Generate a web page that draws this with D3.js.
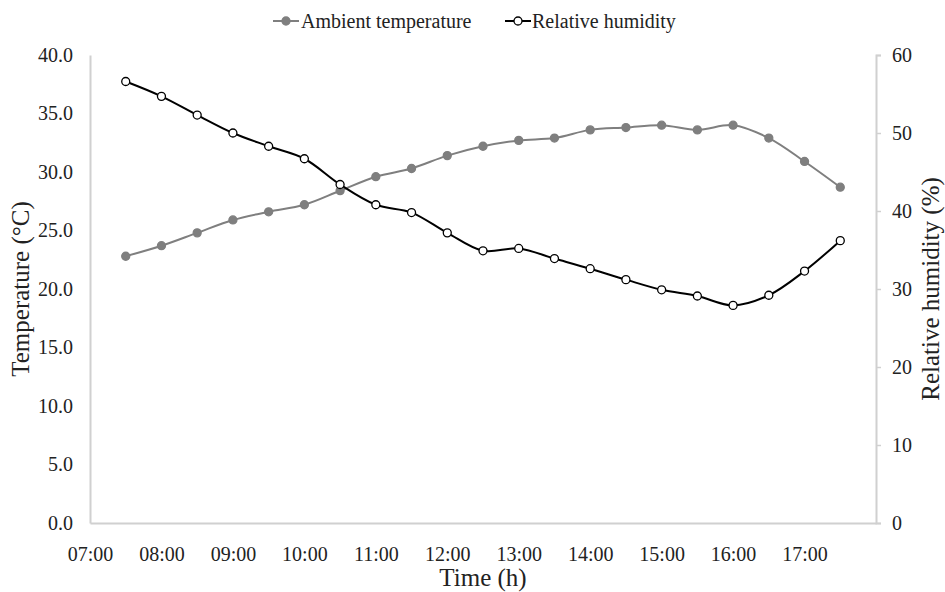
<!DOCTYPE html>
<html>
<head>
<meta charset="utf-8">
<script src="https://cdn.jsdelivr.net/npm/d3@7"></script>
<style>
  body { margin: 0; background: #fff; }
</style>
</head>
<body>
<div id="chart"></div>
<script>
// Half-hourly readings, 07:30 to 17:30
const times = ["07:30", "08:00", "08:30", "09:00", "09:30", "10:00", "10:30", "11:00", "11:30",
    "12:00", "12:30", "13:00", "13:30", "14:00", "14:30", "15:00", "15:30", "16:00", "16:30",
    "17:00", "17:30"];
const temperature = [22.8, 23.7, 24.8, 25.9, 26.6, 27.2, 28.4, 29.6, 30.3, 31.4, 32.2, 32.7,
    32.9, 33.6, 33.8, 34.0, 33.6, 34.0, 32.9, 30.9, 28.7];
const humidity = [56.6, 54.7, 52.3, 50.0, 48.3, 46.7, 43.4, 40.8, 39.8, 37.2, 34.9, 35.2,
    33.9, 32.6, 31.2, 29.9, 29.1, 27.9, 29.2, 32.3, 36.2];
const hourTicks = ["07:00", "08:00", "09:00", "10:00", "11:00", "12:00", "13:00", "14:00",
    "15:00", "16:00", "17:00"];
const tempTicks = [0, 5, 10, 15, 20, 25, 30, 35, 40];
const humTicks = [0, 10, 20, 30, 40, 50, 60];

const width = 945, height = 592;
const margin = {top: 55, right: 69, bottom: 69, left: 90};
const serif = "'Liberation Serif', 'Times New Roman', serif";

const parse = d3.timeParse("%H:%M");
const svg = d3.select("#chart").append("svg")
    .attr("width", width)
    .attr("height", height)
    .style("font-family", serif);

const x = d3.scaleTime()
    .domain([parse("07:00"), parse("18:00")])
    .range([margin.left, width - margin.right]);
const yT = d3.scaleLinear().domain([0, 40]).range([height - margin.bottom, margin.top]);
const yH = d3.scaleLinear().domain([0, 60]).range([height - margin.bottom, margin.top]);

const axisColor = "#d0d0d0";
const textColor = "#222";

function styleAxis(g) {
    g.attr("font-family", null);
    g.select(".domain").attr("stroke", axisColor).attr("stroke-width", 2);
    g.selectAll(".tick line").attr("stroke", axisColor).attr("stroke-width", 1.5);
    g.selectAll("text")
        .style("font-family", serif)
        .style("font-size", "20px")
        .attr("fill", textColor);
}

// Bottom axis
svg.append("g")
    .attr("transform", `translate(0,${height - margin.bottom})`)
    .call(d3.axisBottom(x).tickValues(hourTicks.map(parse)).tickFormat(d3.timeFormat("%H:%M")).tickSize(0).tickPadding(24))
    .call(styleAxis);

// Left axis
svg.append("g")
    .attr("transform", `translate(${margin.left},0)`)
    .call(d3.axisLeft(yT).tickValues(tempTicks).tickFormat(d3.format(".1f")).tickSize(0).tickPadding(17))
    .call(styleAxis);

// Right axis
svg.append("g")
    .attr("transform", `translate(${width - margin.right},0)`)
    .call(d3.axisRight(yH).tickValues(humTicks).tickSize(5).tickPadding(11))
    .call(styleAxis);

// Axis titles
svg.append("text")
    .attr("x", (margin.left + width - margin.right) / 2)
    .attr("y", 586)
    .attr("text-anchor", "middle")
    .style("font-size", "25px")
    .attr("fill", textColor)
    .text("Time (h)");

svg.append("text")
    .attr("transform", `translate(29,${(margin.top + height - margin.bottom) / 2}) rotate(-90)`)
    .attr("text-anchor", "middle")
    .style("font-size", "25px")
    .attr("fill", textColor)
    .text("Temperature (°C)");

svg.append("text")
    .attr("transform", `translate(939,${(margin.top + height - margin.bottom) / 2}) rotate(-90)`)
    .attr("text-anchor", "middle")
    .style("font-size", "25px")
    .attr("fill", textColor)
    .text("Relative humidity (%)");

// Series
const tempColor = "#7f7f7f";
const series = [
    {name: "Ambient temperature", values: temperature, y: yT, stroke: tempColor, fill: tempColor},
    {name: "Relative humidity", values: humidity, y: yH, stroke: "#000", fill: "#fff"}
];

series.forEach(s => {
    const pts = times.map((t, i) => ({t: parse(t), v: s.values[i]}));
    const line = d3.line()
        .x(d => x(d.t))
        .y(d => s.y(d.v))
        .curve(d3.curveCatmullRom.alpha(0.5));

    svg.append("path")
        .datum(pts)
        .attr("d", line)
        .attr("fill", "none")
        .attr("stroke", s.stroke)
        .attr("stroke-width", 2);

    svg.append("g").selectAll("circle")
        .data(pts)
        .enter()
        .append("circle")
        .attr("cx", d => x(d.t))
        .attr("cy", d => s.y(d.v))
        .attr("r", 4)
        .attr("fill", s.fill)
        .attr("stroke", s.stroke)
        .attr("stroke-width", 1.3);
});

// Legend
const legendItems = [
    {x0: 273, tx: 301},
    {x0: 505, tx: 532}
];
series.forEach((s, i) => {
    const g = svg.append("g");
    const lx = legendItems[i].x0;
    g.append("line")
        .attr("x1", lx).attr("x2", lx + 26)
        .attr("y1", 21).attr("y2", 21)
        .attr("stroke", s.stroke)
        .attr("stroke-width", 2);
    g.append("circle")
        .attr("cx", lx + 13).attr("cy", 21).attr("r", 4)
        .attr("fill", s.fill)
        .attr("stroke", s.stroke)
        .attr("stroke-width", 1.3);
    g.append("text")
        .attr("x", legendItems[i].tx)
        .attr("y", 28)
        .style("font-size", "20px")
        .attr("fill", textColor)
        .text(s.name);
});
</script>
</body>
</html>
